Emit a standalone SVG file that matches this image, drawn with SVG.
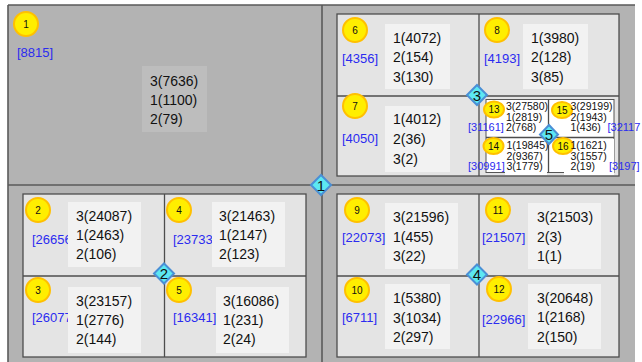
<svg xmlns="http://www.w3.org/2000/svg" width="642" height="362" viewBox="0 0 642 362">
<style>
.bg{fill:#b3b3b3}
.frame{fill:#e4e4e4;stroke:#4d4d4d;stroke-width:1.3}
.sub{fill:#ffffff;stroke:#555;stroke-width:1}
.div{stroke:#4d4d4d;stroke-width:1.3;fill:none}
.main{stroke:#5a5a5a;stroke-width:1.6;fill:none}
.box{fill:#f2f2f2}
.box0{fill:#bdbdbd}
.t{font-family:"Liberation Sans",Arial,sans-serif;font-size:14px;fill:#111}
.ts{font-family:"Liberation Sans",Arial,sans-serif;font-size:10.5px;fill:#111}
.lb{font-family:"Liberation Sans",Arial,sans-serif;font-size:13px;fill:#2b2bf0}
.lbs{font-family:"Liberation Sans",Arial,sans-serif;font-size:11px;fill:#2b2bf0}
.c{fill:#ffee00;stroke:#ffc000;stroke-width:2}
.cn{font-family:"Liberation Sans",Arial,sans-serif;font-size:10px;fill:#111;text-anchor:middle}
.d{fill:#5ce8f2;stroke:#4a8fd6;stroke-width:2}
.dn{font-family:"Liberation Sans",Arial,sans-serif;font-size:15px;fill:#111;text-anchor:middle}
</style>
<rect x="0" y="0" width="642" height="362" fill="#ffffff"/>
<rect class="bg" x="8" y="5" width="627" height="362"/>
<path class="main" d="M8,5 H635 M8,5 V362"/>

<g id="dividers">
<line class="main" x1="322" y1="5" x2="322" y2="362"/>
<line class="main" x1="8" y1="185" x2="635" y2="185"/>
</g>

<!-- quadrant 1 (top-left) -->
<g id="n1">
<rect class="box0" x="142" y="66" width="65" height="66"/>
<circle class="c" cx="26" cy="24" r="12"/>
<text class="cn" x="26" y="27.5">1</text>
<text class="lb" x="17" y="57">[8815]</text>
<text class="t" x="150" y="86">3(7636)</text>
<text class="t" x="150" y="105">1(1100)</text>
<text class="t" x="150" y="124">2(79)</text>
</g>

<!-- quadrant top-right frame -->
<g id="frame-tr">
<rect class="frame" x="337" y="14" width="282" height="162"/>
<path class="div" d="M479,14 V176 M337,96 H619"/>
</g>
<g id="n6">
<rect class="box" x="385" y="24" width="65" height="65"/>
<circle class="c" cx="355" cy="30" r="12"/>
<text class="cn" x="355" y="33.5">6</text>
<text class="lb" x="342" y="63">[4356]</text>
<text class="t" x="393" y="43">1(4072)</text>
<text class="t" x="393" y="62">2(154)</text>
<text class="t" x="393" y="82">3(130)</text>
</g>
<g id="n8">
<rect class="box" x="523" y="24" width="65" height="65"/>
<circle class="c" cx="497" cy="30" r="12"/>
<text class="cn" x="497" y="33.5">8</text>
<text class="lb" x="484" y="63">[4193]</text>
<text class="t" x="531" y="43">1(3980)</text>
<text class="t" x="531" y="62">2(128)</text>
<text class="t" x="531" y="82">3(85)</text>
</g>
<g id="n7">
<rect class="box" x="385" y="106" width="65" height="66"/>
<circle class="c" cx="355" cy="106" r="12"/>
<text class="cn" x="355" y="109.5">7</text>
<text class="lb" x="342" y="143">[4050]</text>
<text class="t" x="393" y="124">1(4012)</text>
<text class="t" x="393" y="144">2(36)</text>
<text class="t" x="393" y="164">3(2)</text>
</g>

<!-- nested sub-quadrant -->
<g id="frame-sub">
<rect class="sub" x="486" y="99.5" width="128" height="73"/>
<path class="div" d="M548.5,99.5 V172.5 M486,137.5 H614" stroke-width="1"/>
<rect x="505" y="139" width="42" height="36" fill="#ffffff"/>
<rect x="564" y="139" width="50" height="36" fill="#ffffff"/>
</g>
<g id="n13">
<ellipse class="c" cx="494" cy="109.5" rx="10" ry="8"/>
<text class="cn" x="494" y="113">13</text>
<text class="lbs" x="468" y="131">[31161]</text>
<text class="ts" x="506" y="109.5">3(27580)</text>
<text class="ts" x="506" y="120.5">1(2819)</text>
<text class="ts" x="506" y="131">2(768)</text>
</g>
<g id="n15">
<ellipse class="c" cx="562" cy="110" rx="10" ry="8"/>
<text class="cn" x="562" y="113.5">15</text>
<text class="lbs" x="607.5" y="131">[32117</text>
<text class="ts" x="570.5" y="109.5">3(29199)</text>
<text class="ts" x="570.5" y="120.5">2(1943)</text>
<text class="ts" x="570.5" y="131">1(436)</text>
</g>
<g id="n14">
<ellipse class="c" cx="493.5" cy="146" rx="10" ry="8"/>
<text class="cn" x="493.5" y="149.5">14</text>
<text class="lbs" x="468" y="170">[30991]</text>
<text class="ts" x="506.5" y="149">1(19845)</text>
<text class="ts" x="506.5" y="159.5">2(9367)</text>
<text class="ts" x="506.5" y="170">3(1779)</text>
</g>
<g id="n16">
<ellipse class="c" cx="563" cy="146" rx="10" ry="8"/>
<text class="cn" x="563" y="149.5">16</text>
<text class="lbs" x="609" y="170">[3197]</text>
<text class="ts" x="570.5" y="149">1(1621)</text>
<text class="ts" x="570.5" y="159.5">3(1557)</text>
<text class="ts" x="570.5" y="170">2(19)</text>
</g>

<!-- bottom-left quadrant -->
<g id="frame-bl">
<rect class="frame" x="23" y="194" width="283" height="163"/>
<path class="div" d="M164.5,194 V357 M23,276 H306"/>
</g>
<g id="n2">
<text class="lb" x="32" y="244">[26656]</text>
<rect class="box" x="68" y="202" width="73" height="65"/>
<circle class="c" cx="38" cy="210" r="12"/>
<text class="cn" x="38" y="213.5">2</text>
<text class="t" x="76" y="221">3(24087)</text>
<text class="t" x="76" y="240">1(2463)</text>
<text class="t" x="76" y="259">2(106)</text>
</g>
<g id="n4">
<text class="lb" x="173" y="244">[23733]</text>
<rect class="box" x="212" y="202" width="73" height="65"/>
<circle class="c" cx="179" cy="210" r="12"/>
<text class="cn" x="179" y="213.5">4</text>
<text class="t" x="219" y="221">3(21463)</text>
<text class="t" x="219" y="240">1(2147)</text>
<text class="t" x="219" y="259">2(123)</text>
</g>
<g id="n3">
<text class="lb" x="32" y="322">[26077]</text>
<rect class="box" x="68" y="287" width="73" height="66"/>
<circle class="c" cx="38" cy="290" r="12"/>
<text class="cn" x="38" y="293.5">3</text>
<text class="t" x="76" y="306">3(23157)</text>
<text class="t" x="76" y="325">1(2776)</text>
<text class="t" x="76" y="344">2(144)</text>
</g>
<g id="n5">
<text class="lb" x="173" y="322">[16341]</text>
<rect class="box" x="216" y="287" width="73" height="66"/>
<circle class="c" cx="179" cy="290" r="12"/>
<text class="cn" x="179" y="293.5">5</text>
<text class="t" x="223" y="306">3(16086)</text>
<text class="t" x="223" y="325">1(231)</text>
<text class="t" x="223" y="344">2(24)</text>
</g>

<!-- bottom-right quadrant -->
<g id="frame-br">
<rect class="frame" x="337" y="194" width="282" height="163"/>
<path class="div" d="M479,194 V357 M337,276 H619"/>
</g>
<g id="n9">
<rect class="box" x="385" y="203" width="73" height="66"/>
<circle class="c" cx="357" cy="210" r="12"/>
<text class="cn" x="357" y="213.5">9</text>
<text class="lb" x="342" y="242">[22073]</text>
<text class="t" x="393" y="222">3(21596)</text>
<text class="t" x="393" y="242">1(455)</text>
<text class="t" x="393" y="261">3(22)</text>
</g>
<g id="n11">
<rect class="box" x="528" y="203" width="73" height="66"/>
<circle class="c" cx="498" cy="210" r="12"/>
<text class="cn" x="498" y="213.5">11</text>
<text class="lb" x="482" y="242">[21507]</text>
<text class="t" x="537" y="222">3(21503)</text>
<text class="t" x="537" y="242">2(3)</text>
<text class="t" x="537" y="261">1(1)</text>
</g>
<g id="n10">
<rect class="box" x="385" y="284" width="65" height="65"/>
<circle class="c" cx="357" cy="290" r="12"/>
<text class="cn" x="357" y="293.5">10</text>
<text class="lb" x="342" y="322">[6711]</text>
<text class="t" x="393" y="303">1(5380)</text>
<text class="t" x="393" y="323">3(1034)</text>
<text class="t" x="393" y="342">2(297)</text>
</g>
<g id="n12">
<rect class="box" x="528" y="284" width="73" height="65"/>
<circle class="c" cx="499" cy="289" r="12"/>
<text class="cn" x="499" y="292.5">12</text>
<text class="lb" x="482" y="324">[22966]</text>
<text class="t" x="537" y="303">3(20648)</text>
<text class="t" x="537" y="322">1(2168)</text>
<text class="t" x="537" y="342">2(150)</text>
</g>

<!-- junction diamonds -->
<g id="j1"><path class="d" d="M321,175 L331,185 L321,195 L311,185 Z"/><text class="dn" x="321" y="190.5">1</text></g>
<g id="j2"><path class="d" d="M164,263.5 L174,273.5 L164,283.5 L154,273.5 Z"/><text class="dn" x="164" y="279">2</text></g>
<g id="j3"><path class="d" d="M477,85 L487,95 L477,105 L467,95 Z"/><text class="dn" x="477" y="100.5">3</text></g>
<g id="j4"><path class="d" d="M477,264.5 L487,274.5 L477,284.5 L467,274.5 Z"/><text class="dn" x="477" y="280">4</text></g>
<g id="j5"><path class="d" d="M549,125 L558,134.5 L549,144 L540,134.5 Z"/><text class="dn" x="549" y="140">5</text></g>
</svg>
